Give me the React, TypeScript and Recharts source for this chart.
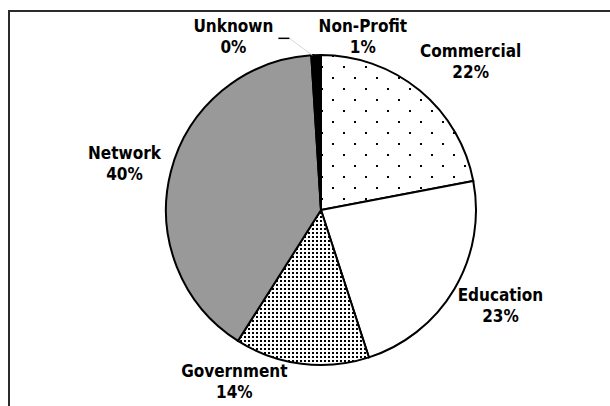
import React from "react";
import { PieChart, Pie, Cell } from "recharts";

// share of sites by type (percent)
const NAMES = ["Commercial", "Education", "Government", "Network", "Unknown", "Non-Profit"];
const SHARES = [22, 23, 14, 40, 0.2, 0.8];
const FILLS = ["url(#dotsSparse)", "#ffffff", "url(#dotsDense)", "#999999", "#ffffff", "#000000"];

// where Excel pushed each label relative to the plain radial spot
const LABEL_NUDGE: [number, number][] = [
  [19, 5],
  [3, -13],
  [-61, -36],
  [2, 0],
  [-76, 27],
  [47, 27],
];

const RADIAN = Math.PI / 180;
const FONT = "'DejaVu Sans Condensed', 'DejaVu Sans', sans-serif";

const data = NAMES.map((name, i) => ({ name, value: SHARES[i] }));

function renderLabel(props: any) {
  const { cx, cy, midAngle, outerRadius, percent, index, name } = props;
  const r = outerRadius + 50;
  const [nx, ny] = LABEL_NUDGE[index] ?? [0, 0];
  const x = cx + r * Math.cos(-midAngle * RADIAN) + nx;
  const y = cy + r * Math.sin(-midAngle * RADIAN) + ny;
  const pct = `${Math.round(percent * 100)}%`;
  const tiny = percent < 0.005;
  const edgeX = cx + outerRadius * Math.cos(-midAngle * RADIAN);
  const edgeY = cy + outerRadius * Math.sin(-midAngle * RADIAN);
  return (
    <g key={`lbl-${index}`}>
      {tiny && (
        <>
          <line x1={x + 56} y1={y + 6} x2={edgeX} y2={edgeY} stroke="#d8d8d8" strokeWidth={1} />
          <line x1={x + 45} y1={y + 6} x2={x + 56} y2={y + 6} stroke="#000" strokeWidth={1.5} />
        </>
      )}
      <text
        x={x}
        y={y}
        textAnchor="middle"
        fill="#000"
        fontFamily={FONT}
        fontWeight="bold"
        fontSize={17}
      >
        <tspan x={x} y={y}>
          {name}
        </tspan>
        <tspan x={x} y={y + 21}>
          {pct}
        </tspan>
      </text>
    </g>
  );
}

export default function App() {
  return (
    <div
      style={{
        position: "absolute",
        left: 0,
        top: 0,
        width: 610,
        height: 406,
        background: "#fff",
        overflow: "hidden",
      }}
    >
      <div
        style={{
          position: "absolute",
          left: 8,
          top: 10,
          width: 610,
          height: 400,
          borderTop: "2px solid #2b2b2b",
          borderLeft: "2px solid #2b2b2b",
        }}
      />
      <div style={{ position: "absolute", left: 0, top: 0 }}>
        <PieChart width={610} height={406} margin={{ top: 0, right: 0, bottom: 0, left: 0 }}>
          <defs>
            <pattern id="dotsSparse" patternUnits="userSpaceOnUse" width={22} height={22}>
              <rect width={22} height={22} fill="#fff" />
              <rect x={13} y={0} width={2} height={2} fill="#000" />
              <rect x={2} y={11} width={2} height={2} fill="#000" />
            </pattern>
            <pattern id="dotsDense" patternUnits="userSpaceOnUse" width={4} height={4}>
              <rect width={4} height={4} fill="#fff" />
              <rect x={0} y={0} width={2} height={2} fill="#000" />
            </pattern>
          </defs>
          <Pie
            data={data}
            dataKey="value"
            nameKey="name"
            cx={321}
            cy={210}
            outerRadius={155}
            startAngle={90}
            endAngle={-270}
            stroke="#000"
            strokeWidth={2}
            label={renderLabel}
            labelLine={false}
            isAnimationActive={false}
          >
            {data.map((d, i) => (
              <Cell key={d.name} fill={FILLS[i]} />
            ))}
          </Pie>
        </PieChart>
      </div>
    </div>
  );
}
